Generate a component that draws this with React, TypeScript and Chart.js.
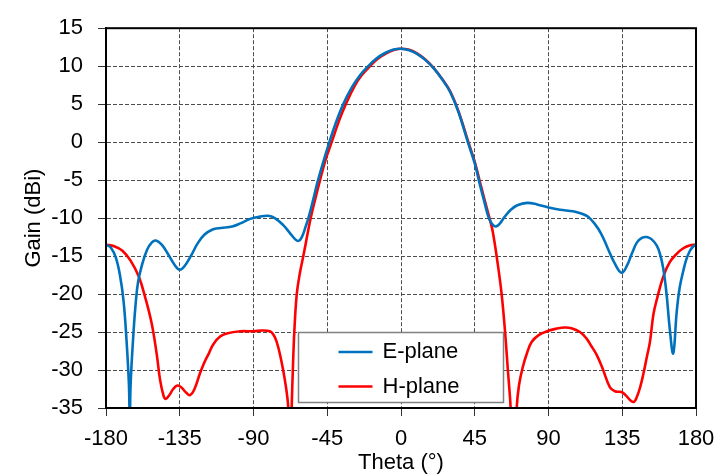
import React, { useEffect, useRef } from "react";
import { Chart, registerables } from "chart.js";

Chart.register(...registerables);

const thetaTicks = [-180, -135, -90, -45, 0, 45, 90, 135, 180];
const gainTicks = [-35, -30, -25, -20, -15, -10, -5, 0, 5, 10, 15];

const eTheta = [
  -180, -177, -174, -171.5, -169.3, -167.5, -166, -165.5, -165, -163.5, -162, -160.5, -158.2, -155, -152, -149.5,
  -146, -142, -138, -135, -132, -128, -124, -120, -115, -110, -103, -98, -92, -86, -81, -77, -72, -68, -64.5,
  -62.5, -60.5, -58, -56.5, -53.6, -51, -47, -43.7, -40, -35, -30, -25, -20, -15, -10, -5, 0, 5, 10, 15, 20, 25,
  30, 35, 40.8, 45, 47.8, 50.8, 53.6, 56, 58, 60, 63, 67, 71, 77, 83, 90, 97, 105, 110, 114, 118, 122,
  126, 130, 134.6, 138, 141, 144, 147, 150, 153, 156, 158, 160, 162, 164, 166.1, 168.2, 170, 172.3, 174, 176.3,
  178, 180,
];
const eGain = [
  -13.5, -13.9, -15.2, -17.5, -20.9, -26, -32, -37, -32, -26, -21.5, -18.5, -16.3, -14.2, -13.2, -12.95,
  -13.5, -14.8, -16.2, -16.8, -16.3, -14.9, -13.3, -12.2, -11.5, -11.3, -11.1, -10.7, -10.1, -9.8, -9.7, -10.0,
  -10.9, -11.9, -12.8, -13.0, -12.5, -11.0, -10.0, -7.6, -5.3, -2.3, 0, 2.4, 5.1, 7.2, 8.8, 10.0, 11.0, 11.7,
  12.15, 12.3, 12.1, 11.6, 10.8, 9.7, 8.3, 6.6, 4.0, 0, -2.8, -5.3, -7.8, -10, -10.9, -11.1, -10.8, -9.9, -8.9,
  -8.3, -8.0, -8.2, -8.6, -8.9, -9.1, -9.4, -9.8, -10.7, -12.0, -13.9, -15.8, -17.2, -16.2, -14.6, -13.2, -12.6,
  -12.5, -12.8, -13.6, -14.7, -16.6, -19.9, -24.6, -27.8, -22.4, -19.2, -16.9, -15.5, -14.3, -13.8, -13.5,
];

const hTheta = [
  -180, -175, -170, -165, -160, -156, -152, -149, -147, -145, -143.6, -141, -139, -136.5, -134, -131, -128.7,
  -126, -122.6, -120, -117, -114.5, -110.4, -106.4, -98, -90, -85, -80, -78, -76, -73.8, -70.8, -68.8, -67.7,
  -66.7, -66, -65.1, -63.6, -61.5, -59.6, -55.1, -52, -49.4, -46, -42.3, -38, -33.7, -28, -24, -18.9, -14, -9,
  -4, 0, 5, 10, 15, 20, 25, 30, 35, 41.1, 45, 48, 51, 54, 56, 59, 61.4, 63.5, 65.2, 66.9, 68.8,
  70.6, 72, 74.2, 77, 79.7, 84, 89, 95, 100, 104, 109.2, 113, 116, 119.4, 123, 127.5, 130.5, 134.6, 137, 140,
  142.2, 144, 146, 147.9, 150, 151.9, 154, 156, 160, 164, 168.2, 172, 176, 180,
];
const hGain = [
  -13.5, -13.7, -14.3, -15.6, -17.7, -20.5, -24, -28, -31.3, -33.3, -33.8, -33.2, -32.5, -32.05, -32.3, -33.0,
  -33.3, -32.5, -30.4, -29.0, -27.7, -26.6, -25.6, -25.2, -24.9, -24.9, -24.8, -24.9, -25.3, -26.2, -28, -31.4,
  -35, -45, -35, -30, -25, -20, -17, -15, -10, -7.2, -5, -2.3, 0, 2.7, 5, 7.5, 8.8, 10, 11, 11.7, 12.15, 12.3,
  12.15, 11.65, 10.85, 9.75, 8.35, 6.7, 4.1, 0, -2.6, -5.1, -7.6, -10, -11.8, -16, -20, -25, -30, -35, -45,
  -35, -32, -29.7, -27.7, -26.3, -25.4, -24.9, -24.55, -24.4, -24.5, -25, -25.8, -26.8, -28, -29.8, -32.3, -32.8,
  -32.9, -33.3, -34, -34.2, -33.5, -32.2, -30.5, -28.3, -26.3, -22.7, -20.8, -17.7, -15.8, -14.7, -14.0, -13.6,
  -13.5,
];

const FONT = '"Liberation Sans", Arial, Helvetica, sans-serif';

const frameAndLegend = {
  id: "frameAndLegend",
  afterDraw(chart: any) {
    const { ctx, chartArea } = chart;
    const { left, right, top, bottom } = chartArea;
    ctx.save();
    ctx.strokeStyle = "#000";
    ctx.lineWidth = 2;
    ctx.strokeRect(left, top, right - left, bottom - top);

    const cx = (left + right) / 2;
    const w = 205;
    const h = 70;
    const x0 = cx - w / 2;
    const y0 = bottom - 5.5 - h;
    ctx.fillStyle = "#fff";
    ctx.fillRect(x0, y0, w, h);
    ctx.strokeStyle = "#808080";
    ctx.lineWidth = 1.5;
    ctx.strokeRect(x0, y0, w, h);
    chart.data.datasets.forEach((ds: any, i: number) => {
      const y = y0 + 19.5 + i * 34.5;
      ctx.strokeStyle = ds.borderColor;
      ctx.lineWidth = 2.5;
      ctx.beginPath();
      ctx.moveTo(x0 + 40, y);
      ctx.lineTo(x0 + 74, y);
      ctx.stroke();
      ctx.fillStyle = "#000";
      ctx.font = `22px ${FONT}`;
      ctx.textBaseline = "middle";
      ctx.textAlign = "left";
      ctx.fillText(ds.label, x0 + 84, y);
    });
    ctx.restore();
  },
};

const gridOpts = {
  color: "#4d4d4d",
  lineWidth: 1,
  drawTicks: true,
  tickLength: 8,
  tickColor: "#333",
  tickWidth: 1,
  tickBorderDash: [],
} as any;

export default function App() {
  const ref = useRef<HTMLCanvasElement | null>(null);

  useEffect(() => {
    if (!ref.current) return;
    const mk = (th: number[], g: number[]) => th.map((t, i) => ({ x: t, y: g[i] }));
    const chart = new Chart(ref.current, {
      type: "line",
      data: {
        datasets: [
          {
            label: "E-plane",
            data: mk(eTheta, eGain),
            borderColor: "#0072BD",
            borderWidth: 2.6,
            pointRadius: 0,
            tension: 0.4,
            clip: { left: 2, right: 2, top: 2, bottom: 0 },
          },
          {
            label: "H-plane",
            data: mk(hTheta, hGain),
            borderColor: "#FF0000",
            borderWidth: 2.6,
            pointRadius: 0,
            tension: 0.4,
            clip: { left: 2, right: 2, top: 2, bottom: 0 },
          },
        ],
      },
      options: {
        animation: false,
        responsive: false,
        parsing: false as any,
        layout: { padding: { top: 18, right: 32, left: 0, bottom: 0 } },
        plugins: { legend: { display: false }, tooltip: { enabled: false } },
        scales: {
          x: {
            type: "linear",
            min: -180,
            max: 180,
            afterBuildTicks: (s: any) => {
              s.ticks = thetaTicks.map((v) => ({ value: v }));
            },
            afterFit: (s: any) => {
              s.height = 68;
            },
            ticks: { color: "#000", font: { family: FONT, size: 22 }, padding: 10, maxRotation: 0 },
            grid: gridOpts,
            border: { display: true, color: "#000", width: 2, dash: [4, 2] } as any,
            title: { display: true, text: "Theta (°)", color: "#000", font: { family: FONT, size: 22 }, padding: { top: 0, bottom: 0 } },
          },
          y: {
            type: "linear",
            min: -35,
            max: 15,
            afterBuildTicks: (s: any) => {
              s.ticks = gainTicks.map((v) => ({ value: v }));
            },
            afterFit: (s: any) => {
              s.width = 106;
            },
            ticks: { color: "#000", font: { family: FONT, size: 22 }, padding: 15 },
            grid: gridOpts,
            border: { display: true, color: "#000", width: 2, dash: [4, 2] } as any,
            title: { display: true, text: "Gain (dBi)", color: "#000", font: { family: FONT, size: 22 }, padding: { top: 21, bottom: 0 } },
          },
        },
      },
      plugins: [frameAndLegend],
    });
    return () => chart.destroy();
  }, []);

  return (
    <div style={{ position: "absolute", left: 0, top: 0, width: 728, height: 476, background: "#fff" }}>
      <canvas ref={ref} width={728} height={476} style={{ display: "block", width: 728, height: 476 }} />
    </div>
  );
}
